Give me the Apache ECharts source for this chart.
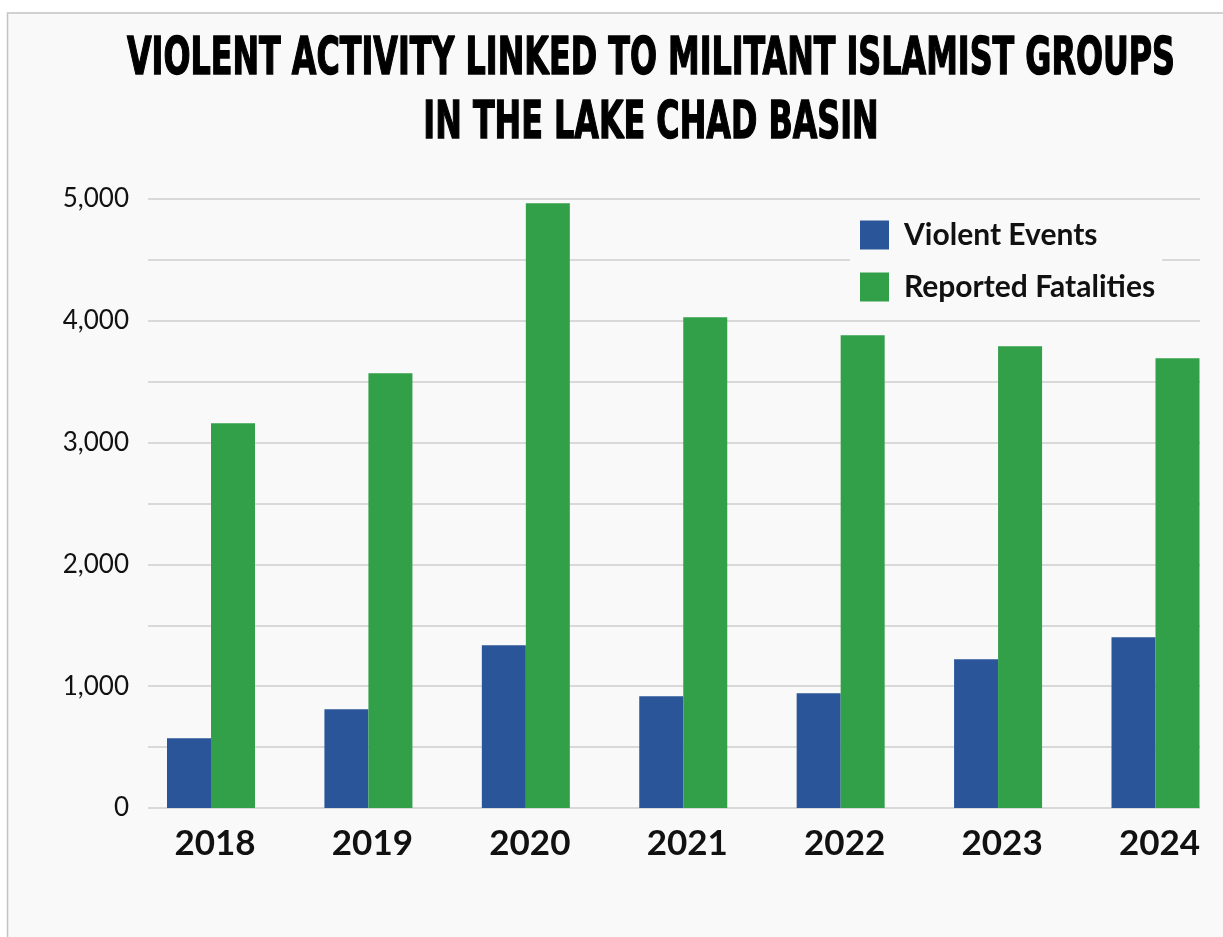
<!DOCTYPE html>
<html>
<head>
<meta charset="utf-8">
<script src="https://cdn.jsdelivr.net/npm/echarts@6/dist/echarts.min.js"></script>
<style>
html,body{margin:0;padding:0;background:#ffffff;}
#chart{width:1223px;height:937px;}
</style>
</head>
<body>
<div id="chart"></div>
<script>
const categories = ['2018', '2019', '2020', '2021', '2022', '2023', '2024'];
const violentEvents = [572, 810, 1336, 917, 942, 1221, 1401];
const reportedFatalities = [3158, 3569, 4965, 4029, 3881, 3791, 3692];
const seriesNames = ['Violent Events', 'Reported Fatalities'];
const titleLines = ['VIOLENT ACTIVITY LINKED TO MILITANT ISLAMIST GROUPS', 'IN THE LAKE CHAD BASIN'];
const yTickValues = [0, 1000, 2000, 3000, 4000, 5000];

const titleFont = 'bold 52px "DejaVu Sans Condensed"';
const ctx = document.createElement('canvas').getContext('2d');
ctx.font = titleFont;
const titleScale = 1048 / ctx.measureText(titleLines[0]).width;

const chart = echarts.init(document.getElementById('chart'), null, {renderer: 'canvas'});
const option = {
  backgroundColor: '#ffffff',
  animation: false,
  graphic: [
    {type: 'rect', z: -10, silent: true, shape: {x: 7.5, y: 13, width: 1300, height: 1000},
     style: {fill: '#f9f9f9', stroke: '#c4c4c4', lineWidth: 1.5}},
    {type: 'text', z: 100, x: 651, y: 60, scaleX: titleScale,
     style: {text: titleLines[0], font: titleFont, fill: '#000000', stroke: '#000000', lineWidth: 1.4,
             align: 'center', verticalAlign: 'middle'}},
    {type: 'text', z: 100, x: 651, y: 124.5, scaleX: titleScale,
     style: {text: titleLines[1], font: titleFont, fill: '#000000', stroke: '#000000', lineWidth: 1.4,
             align: 'center', verticalAlign: 'middle'}}
  ],
  legend: {
    orient: 'vertical', left: 850, top: 210,
    padding: [10, 7, 10, 10],
    backgroundColor: '#f9f9f9',
    itemWidth: 29, itemHeight: 29, itemGap: 22,
    icon: 'rect',
    data: seriesNames,
    textStyle: {fontFamily: 'Lato', fontWeight: 'bold', fontSize: 30, color: '#111111', padding: [0, 0, 0, 10]}
  },
  grid: [
    {left: 148, right: 23, top: 199, bottom: 129},
    {left: 211, right: 67.5, top: 199, bottom: 129}
  ],
  xAxis: [
    {gridIndex: 0, type: 'category', data: categories, show: false},
    {gridIndex: 1, type: 'category', data: categories, boundaryGap: false,
     axisLine: {show: false}, axisTick: {show: false},
     axisLabel: {fontFamily: 'Lato', fontWeight: 'bold', fontSize: 35, color: '#111111', margin: 18, padding: [0, 0, 0, 8]}}
  ],
  yAxis: [
    {gridIndex: 0, type: 'value', min: 0, max: 5000, interval: 500,
     axisLine: {show: false}, axisTick: {show: false},
     splitLine: {lineStyle: {color: '#d9d9d9', width: 2}},
     axisLabel: {fontFamily: 'Lato', fontSize: 26, color: '#111111', margin: 19,
       formatter: function (v) { return yTickValues.indexOf(v) >= 0 ? v.toLocaleString('en-US') : ''; }}},
    {gridIndex: 1, type: 'value', min: 0, max: 5000, show: false, splitLine: {show: false}}
  ],
  series: [
    {name: seriesNames[0], type: 'bar', xAxisIndex: 1, yAxisIndex: 1, data: violentEvents,
     barWidth: 44, barGap: '0%', itemStyle: {color: '#2a5599'}},
    {name: seriesNames[1], type: 'bar', xAxisIndex: 1, yAxisIndex: 1, data: reportedFatalities,
     barWidth: 44, barGap: '0%', itemStyle: {color: '#31a048'}}
  ]
};
chart.setOption(option);
</script>
</body>
</html>
